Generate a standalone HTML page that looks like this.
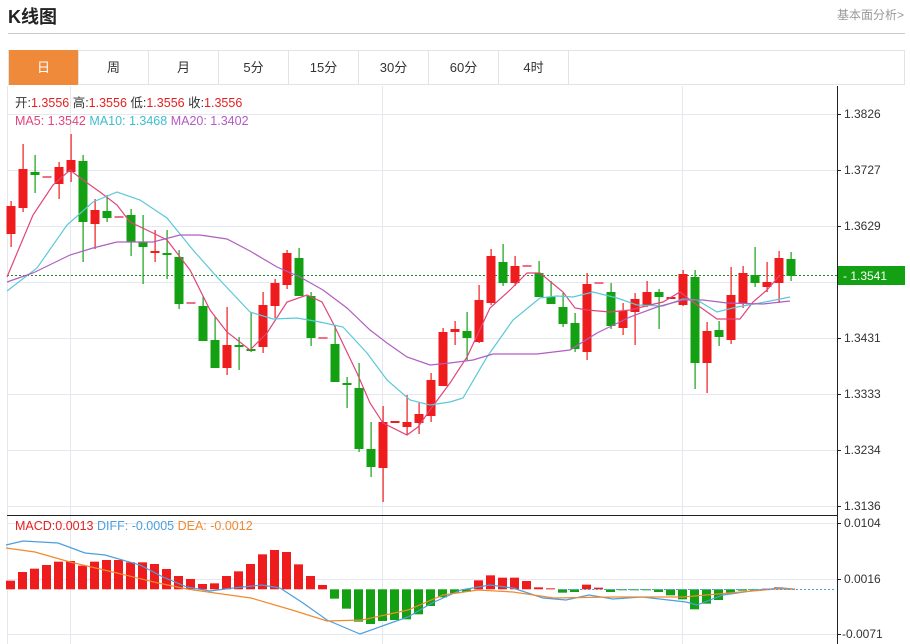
<!DOCTYPE html>
<html><head><meta charset="utf-8">
<style>
body{margin:0;width:910px;height:644px;background:#fff;overflow:hidden;font-family:"Liberation Sans","Noto Sans CJK SC",sans-serif;position:relative}
.t{position:absolute;left:8px;top:3px;font-size:18px;font-weight:bold;color:#222}
.r{position:absolute;right:6px;top:6px;font-size:12px;color:#999}
.hl{position:absolute;left:8px;top:33px;width:897px;height:1px;background:#ccc}
.tabs{position:absolute;left:8px;top:50px;width:897px;height:35px;border:1px solid #e3e3e3;box-sizing:border-box;display:flex}
.tabs div{width:70px;height:35px;line-height:35px;text-align:center;font-size:13px;color:#333;border-right:1px solid #e3e3e3;box-sizing:border-box;margin-top:-1px}
.tabs div.a{background:#f08a3b;color:#fff}
svg{position:absolute;left:0;top:0}
</style></head><body>
<div class="t">K线图</div><div class="r">基本面分析&gt;</div><div class="hl"></div>
<div class="tabs"><div class="a">日</div><div>周</div><div>月</div><div>5分</div><div>15分</div><div>30分</div><div>60分</div><div>4时</div></div>
<svg width="910" height="644" id="s" font-family="Liberation Sans, Noto Sans CJK SC, sans-serif">
<g stroke="#e6e8ef" stroke-width="1">
<line x1="7" y1="114.5" x2="837" y2="114.5"/><line x1="7" y1="170.5" x2="837" y2="170.5"/><line x1="7" y1="226.5" x2="837" y2="226.5"/><line x1="7" y1="282.5" x2="837" y2="282.5"/><line x1="7" y1="338.5" x2="837" y2="338.5"/><line x1="7" y1="394.5" x2="837" y2="394.5"/><line x1="7" y1="450.5" x2="837" y2="450.5"/><line x1="7" y1="506.5" x2="837" y2="506.5"/>
<line x1="7" y1="523.5" x2="837" y2="523.5"/><line x1="7" y1="579.5" x2="837" y2="579.5"/><line x1="7" y1="634.5" x2="837" y2="634.5"/>
<line x1="70.5" y1="86" x2="70.5" y2="644"/><line x1="382.5" y1="86" x2="382.5" y2="644"/><line x1="682.5" y1="86" x2="682.5" y2="644"/>
<line x1="7.5" y1="86" x2="7.5" y2="644"/>
</g>
<line x1="7" y1="515.5" x2="837" y2="515.5" stroke="#222"/>
<line x1="837.5" y1="86" x2="837.5" y2="644" stroke="#222"/>
<g stroke="#222"><line x1="837" y1="114.5" x2="841" y2="114.5"/><line x1="837" y1="170.5" x2="841" y2="170.5"/><line x1="837" y1="226.5" x2="841" y2="226.5"/><line x1="837" y1="282.5" x2="841" y2="282.5"/><line x1="837" y1="338.5" x2="841" y2="338.5"/><line x1="837" y1="394.5" x2="841" y2="394.5"/><line x1="837" y1="450.5" x2="841" y2="450.5"/><line x1="837" y1="506.5" x2="841" y2="506.5"/><line x1="837" y1="523.5" x2="841" y2="523.5"/><line x1="837" y1="579.5" x2="841" y2="579.5"/><line x1="837" y1="634.5" x2="841" y2="634.5"/></g>
<g font-size="12" fill="#333">
<text x="844" y="118">1.3826</text><text x="844" y="174">1.3727</text><text x="844" y="230">1.3629</text><text x="844" y="342">1.3431</text><text x="844" y="398">1.3333</text><text x="844" y="454">1.3234</text><text x="844" y="510">1.3136</text>
<text x="844" y="527">0.0104</text><text x="844" y="583">0.0016</text><text x="842" y="638">-0.0071</text>
</g>
<line x1="7" y1="275.5" x2="837" y2="275.5" stroke="#1a8a1a" stroke-dasharray="2,2"/>
<rect x="838" y="266" width="67" height="19" fill="#13a113"/>
<text x="843" y="280" font-size="12" fill="#fff">- 1.3541</text>
<g font-size="12.5">
<text x="15" y="107" fill="#333">开:<tspan fill="#e52020">1.3556</tspan>  高:<tspan fill="#e52020">1.3556</tspan>  低:<tspan fill="#e52020">1.3556</tspan>  收:<tspan fill="#e52020">1.3556</tspan></text>
<text x="15" y="125"><tspan fill="#e0457b">MA5: 1.3542</tspan>  <tspan fill="#3bbfcf">MA10: 1.3468</tspan>  <tspan fill="#b559c5">MA20: 1.3402</tspan></text>
<text x="15" y="530"><tspan fill="#e52020">MACD:0.0013</tspan>  <tspan fill="#4a9fe0">DIFF: -0.0005</tspan>  <tspan fill="#f08a30">DEA: -0.0012</tspan></text>
</g>
<g id="c"></g><g id="m"></g>
<g fill="none" stroke-width="1.2">
<polyline stroke="#e0457b" points="7,277 33,215 53,185 70,170 83,180 100,192 117,205 130,222 153,233 167,240 190,270 210,310 227,332 250,350 267,333 287,302 307,295 322,302 333,323 357,373 370,403 383,423 407,435 418,427 430,410 450,383 467,357 490,308 510,290 527,273 540,273 563,292 575,308 587,310 610,312 630,310 650,305 663,302 680,292 693,302 717,319 740,319 753,302 767,290 780,275"/>
<polyline stroke="#5bc8d8" points="7,291 37,268 67,225 93,202 117,192 140,200 167,218 193,250 217,277 250,312 273,319 297,318 320,322 343,327 367,353 387,380 410,400 430,405 450,402 463,398 487,357 513,320 540,298 557,296 573,297 593,292 617,298 637,305 663,306 683,299 697,300 717,312 737,307 760,303 790,297"/>
<polyline stroke="#b05ec0" points="7,282 33,273 70,255 93,248 117,242 153,242 180,235 200,235 227,239 250,251 277,267 300,277 323,290 347,308 370,330 387,343 407,357 430,365 450,363 473,360 493,354 537,354 570,350 597,333 630,317 657,307 683,300 703,300 727,303 763,304 790,301"/>
<polyline stroke="#4a9fe0" points="6,545 23,541 58,543 85,553 105,555 140,565 163,577 187,587 210,591 233,588 262,585 280,588 303,603 327,620 360,634 385,625 408,617 432,603 461,590 490,585 513,588 543,598 566,600 589,595 613,599 642,597 686,602 697,605 723,595 758,590 782,588 793,589"/>
<polyline stroke="#f08a30" points="6,548 35,552 70,562 117,573 158,583 187,589 222,594 251,598 292,610 327,621 362,620 408,610 443,595 478,590 513,592 554,598 613,597 683,597 729,593 776,589 793,589"/>
</g>
<line x1="560" y1="589.5" x2="835" y2="589.5" stroke="#4a9fe0" stroke-dasharray="2,2"/>
</svg>
<script>
var C=[["r",206,234,201,247],["r",169,208,144,212],["g",172,175,155,193],["d",177],["r",167,184,162,199],["r",160,172,134,182],["g",161,222,155,262],["r",210,224,199,249],["g",211,218,195,222],["d",217],["g",215,242,209,256],["g",242,247,215,284],["r",251,253,230,262],["g",253,255,230,279],["g",257,304,250,309],["d",303],["g",306,341,296,341],["g",340,368,317,368],["r",345,368,307,375],["g",345,347,337,370],["g",349,351,312,352],["r",305,347,292,353],["r",283,306,279,318],["r",253,285,250,289],["g",258,296,248,296],["g",296,338,292,346],["d",338],["g",344,382,325,382],["g",383,385,377,408],["g",388,449,363,452],["g",449,467,422,477],["r",422,468,406,502],["e",422],["r",422,427,395,435],["r",414,423,403,434],["r",380,416,373,422],["r",332,386,328,386],["r",329,332,321,345],["g",331,338,312,360],["r",300,342,285,343],["r",256,303,249,305],["g",262,283,244,286],["r",266,283,256,286],["d",266],["g",273,297,261,297],["g",297,304,281,304],["g",307,324,293,327],["g",323,349,313,352],["r",284,352,273,360],["d",283],["g",292,326,283,329],["r",311,328,303,335],["r",299,312,293,345],["r",292,306,281,307],["g",292,297,289,329],["e",298],["r",274,305,270,306],["g",277,363,270,389],["r",331,363,322,393],["g",330,337,321,346],["r",295,340,267,344],["r",273,303,266,308],["g",275,283,247,287],["r",282,287,262,292],["r",258,283,251,303],["g",259,276,252,281]];
var M=[212,186,176,165,155,153,167,155,150,150,157,157,162,177,198,207,222,220,198,184,162,133,120,126,163,198,225,266,296,335,342,333,330,328,313,288,262,250,245,211,196,203,203,213,232,235,248,246,224,233,246,240,239,240,246,256,268,298,281,270,248,242,241,236,232,236];
var h="",RED="#ee1c1c",GRN="#13a113";
C.forEach(function(c,i){var x=11+12*i;
if(c[0]=="d"||c[0]=="e"){h+='<rect x="'+(x-4.5)+'" y="'+(c[1]-1)+'" width="9" height="2" fill="'+(c[0]=="d"?"#ef6f86":RED)+'"/>';return;}
var f=c[0]=="r"?RED:GRN;
h+='<rect x="'+(x-0.5)+'" y="'+c[3]+'" width="1.2" height="'+(c[4]-c[3])+'" fill="'+f+'"/>';
h+='<rect x="'+(x-4.5)+'" y="'+c[1]+'" width="9" height="'+Math.max(2,c[2]-c[1])+'" fill="'+f+'"/>';});
document.getElementById("c").innerHTML=h;
var z=589.3,m="";
M.forEach(function(Y,i){var x=10.5+12*i,y=510+Y/3;
var t=Math.min(y,z),hh=Math.abs(y-z);if(hh<1)hh=1;
m+='<rect x="'+(x-4.5)+'" y="'+t+'" width="9" height="'+hh+'" fill="'+(y<z?RED:GRN)+'"/>';});
document.getElementById("m").innerHTML=m;
</script>
</body></html>
